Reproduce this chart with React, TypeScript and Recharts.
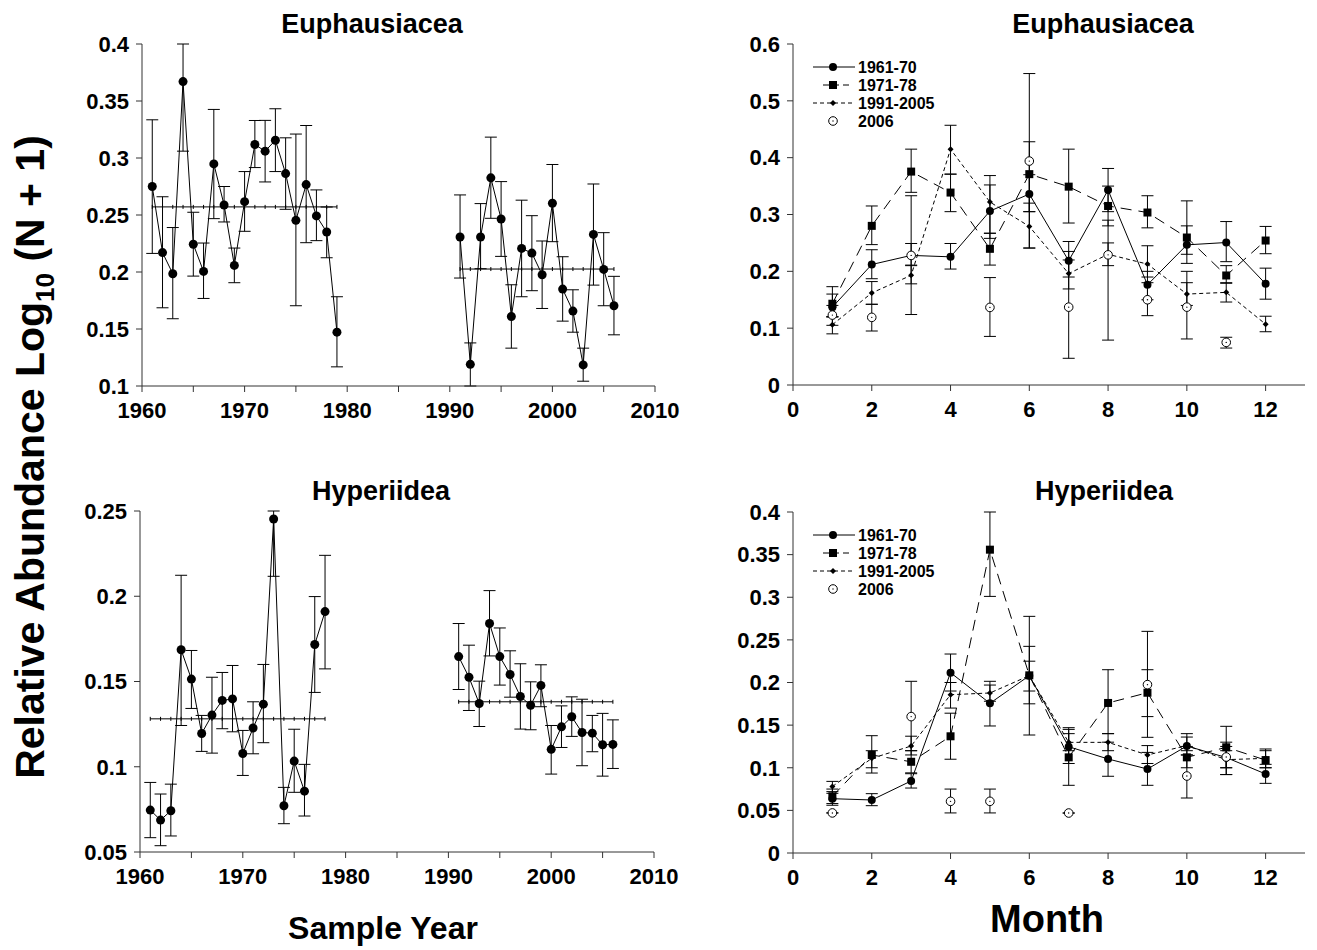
import React from 'react';
import { ComposedChart, Line, XAxis, YAxis, ErrorBar } from 'recharts';

const FONT = '"Liberation Sans", Arial, Helvetica, sans-serif';
const AXIS = '#333';

// ---------- Left panels: by sample year ----------
const euphYearsA = [1961,1962,1963,1964,1965,1966,1967,1968,1969,1970,1971,1972,1973,1974,1975,1976,1977,1978,1979];
const euphMeanA = [0.275,0.217,0.1985,0.367,0.2243,0.2005,0.2948,0.2588,0.2058,0.2617,0.3118,0.306,0.3156,0.2863,0.2453,0.2767,0.2492,0.2351,0.1472];
const euphLowA = [0.2163,0.1686,0.159,0.306,0.1964,0.1768,0.2468,0.2439,0.1906,0.2357,0.2916,0.279,0.2881,0.255,0.1704,0.2257,0.2275,0.2125,0.1168];
const euphHighA = [0.3335,0.266,0.239,0.4,0.2524,0.2254,0.3426,0.275,0.221,0.2881,0.3329,0.333,0.3432,0.3177,0.321,0.3285,0.272,0.257,0.1783];
const euphYearsB = [1991,1992,1993,1994,1995,1996,1997,1998,1999,2000,2001,2002,2003,2004,2005,2006];
const euphMeanB = [0.2307,0.119,0.2307,0.2826,0.2465,0.161,0.2207,0.2166,0.1976,0.2603,0.185,0.1657,0.1185,0.233,0.2023,0.1704];
const euphLowB = [0.1947,0.1,0.2029,0.2471,0.2137,0.1332,0.1783,0.1836,0.168,0.2266,0.1569,0.1472,0.1042,0.1885,0.1704,0.1449];
const euphHighB = [0.2676,0.1378,0.26,0.3183,0.2793,0.1888,0.263,0.2494,0.2272,0.2943,0.2134,0.1844,0.1332,0.2772,0.2345,0.1962];
const euphPeriodMeanA = 0.2571;
const euphPeriodMeanB = 0.2026;

const hypYearsA = [1961,1962,1963,1964,1965,1966,1967,1968,1969,1970,1971,1972,1973,1974,1975,1976,1977,1978];
const hypMeanA = [0.0746,0.0687,0.0742,0.1686,0.1514,0.1195,0.1303,0.1389,0.1398,0.1078,0.1227,0.1367,0.2453,0.0771,0.1033,0.0857,0.1717,0.191];
const hypLowA = [0.0584,0.0537,0.0594,0.1242,0.1342,0.109,0.108,0.1223,0.1205,0.0949,0.1076,0.1141,0.2117,0.0666,0.085,0.0711,0.1436,0.1574];
const hypHighA = [0.0908,0.084,0.0898,0.2123,0.1682,0.1301,0.1525,0.1553,0.1594,0.1213,0.1381,0.16,0.25,0.0879,0.122,0.1014,0.1998,0.224];
const hypYearsB = [1991,1992,1993,1994,1995,1996,1997,1998,1999,2000,2001,2002,2003,2004,2005,2006];
const hypMeanB = [0.1646,0.1525,0.1371,0.184,0.1646,0.1541,0.1412,0.1361,0.1477,0.1102,0.1234,0.1293,0.1201,0.1197,0.1129,0.1131];
const hypLowB = [0.1453,0.133,0.1236,0.165,0.1479,0.1408,0.1221,0.1217,0.1352,0.0957,0.1113,0.1178,0.1006,0.1088,0.0945,0.099];
const hypHighB = [0.184,0.1713,0.1502,0.2033,0.1814,0.168,0.1604,0.1498,0.1598,0.1242,0.1357,0.141,0.1396,0.1301,0.1313,0.1275];
const hypPeriodMeanA = 0.1281;
const hypPeriodMeanB = 0.1381;

const yearTicks = [1960,1965,1970,1975,1980,1985,1990,1995,2000,2005,2010];
const euphYearYTicks = [0.1,0.15,0.2,0.25,0.3,0.35,0.4];
const hypYearYTicks = [0.05,0.1,0.15,0.2,0.25];

// ---------- Right panels: by month ----------
const months = [1,2,3,4,5,6,7,8,9,10,11,12];
const monthTicks = [0,2,4,6,8,10,12];
const euphMonthYTicks = [0,0.1,0.2,0.3,0.4,0.5,0.6];
const hypMonthYTicks = [0,0.05,0.1,0.15,0.2,0.25,0.3,0.35,0.4];

const seriesNames = ['1961-70', '1971-78', '1991-2005', '2006'];

// Euphausiacea monthly
const euph6170 = [0.137,0.212,0.228,0.2255,0.306,0.336,0.2185,0.343,0.1763,0.2466,0.2507,0.178];
const euph6170Low = [0.12,0.187,0.211,0.204,0.267,0.305,0.19,0.305,0.15,0.214,0.217,0.151];
const euph6170High = [0.16,0.238,0.249,0.249,0.3685,0.37,0.2525,0.381,0.2,0.28,0.2876,0.2056];
const euph7178 = [0.143,0.28,0.3755,0.3386,0.2396,0.371,0.349,0.315,0.3035,0.2595,0.1927,0.2542];
const euph7178Low = [0.12,0.247,0.339,0.305,0.211,0.305,0.285,0.28,0.2765,0.23,0.179,0.231];
const euph7178High = [0.173,0.315,0.415,0.371,0.267,0.428,0.415,0.35,0.333,0.324,0.21,0.279];
const euph9105 = [0.106,0.162,0.193,0.415,0.322,0.279,0.196,0.23,0.2127,0.16,0.163,0.107];
const euph9105Low = [0.09,0.142,0.178,0.371,0.258,0.241,0.169,0.21,0.19,0.14,0.146,0.0937];
const euph9105High = [0.12,0.182,0.21,0.457,0.352,0.32,0.22,0.25,0.245,0.18,0.18,0.121];
const euph06Months = [1,2,3,5,6,7,8,9,10,11];
const euph06 = [0.123,0.119,0.228,0.1365,0.394,0.137,0.229,0.15,0.137,0.075];
const euph06Low = [0.105,0.095,0.124,0.0855,0.241,0.047,0.079,0.122,0.081,0.065];
const euph06High = [0.14,0.142,0.333,0.189,0.548,0.235,0.29,0.18,0.2,0.084];

// Hyperiidea monthly
const hyp6170 = [0.0637,0.0622,0.0845,0.2115,0.1756,0.208,0.1247,0.1103,0.0985,0.1255,0.112,0.0927];
const hyp6170Low = [0.056,0.0555,0.0762,0.19,0.149,0.175,0.105,0.09,0.0794,0.115,0.1,0.0817];
const hyp6170High = [0.072,0.0696,0.093,0.2334,0.2014,0.2424,0.145,0.13,0.118,0.136,0.125,0.104];
const hyp7178 = [0.0665,0.115,0.107,0.1369,0.3558,0.2084,0.1122,0.176,0.188,0.1122,0.124,0.109];
const hyp7178Low = [0.058,0.0938,0.094,0.11,0.301,0.1384,0.0794,0.14,0.1357,0.1,0.1,0.1];
const hyp7178High = [0.075,0.1376,0.12,0.164,0.4,0.2776,0.147,0.215,0.215,0.125,0.1486,0.122];
const hyp9105 = [0.078,0.111,0.1255,0.1857,0.1877,0.208,0.1298,0.1298,0.115,0.126,0.1095,0.111];
const hyp9105Low = [0.07,0.1,0.115,0.17,0.178,0.19,0.12,0.12,0.105,0.12,0.092,0.1];
const hyp9105High = [0.084,0.12,0.137,0.2,0.197,0.225,0.14,0.14,0.126,0.14,0.12,0.12];
const hyp06Months = [1,3,4,5,7,9,10,11];
const hyp06 = [0.047,0.16,0.0606,0.0606,0.0469,0.1975,0.0903,0.1126];
const hyp06Low = [0.047,0.12,0.047,0.047,0.0469,0.16,0.0645,0.092];
const hyp06High = [0.047,0.2014,0.075,0.075,0.0469,0.26,0.115,0.13];

type Pt = { x: number; y: number; err: [number, number] };
const build = (xs: number[], ys: number[], lo: number[], hi: number[]): Pt[] =>
  xs.map((x, i) => ({ x, y: ys[i], err: [Math.max(0, ys[i] - lo[i]), Math.max(0, hi[i] - ys[i])] as [number, number] }));
const flat = (xs: number[], v: number) => xs.map((x) => ({ x, y: v }));

// ---------- marker shapes ----------
const filledCircle = (r: number) => (p: any) =>
  p.cx == null ? <g key={p.index} /> : <circle key={p.index} cx={p.cx} cy={p.cy} r={r} fill="#000" stroke="none" />;
const square = (p: any) =>
  p.cx == null ? <g key={p.index} /> : <rect key={p.index} x={p.cx - 4} y={p.cy - 4} width={8} height={8} fill="#000" />;
const diamond = (p: any) =>
  p.cx == null ? <g key={p.index} /> : (
    <polygon key={p.index} points={`${p.cx},${p.cy - 3} ${p.cx + 3},${p.cy} ${p.cx},${p.cy + 3} ${p.cx - 3},${p.cy}`} fill="#000" />
  );
const openCircle = (p: any) =>
  p.cx == null ? <g key={p.index} /> : (
    <g key={p.index}>
      <circle cx={p.cx} cy={p.cy} r={4.3} fill="#fff" stroke="#000" strokeWidth={1} />
      <circle cx={p.cx} cy={p.cy} r={0.7} fill="#000" />
    </g>
  );
const meanTick = (p: any) =>
  p.cx == null ? <g key={p.index} /> : <line key={p.index} x1={p.cx} x2={p.cx} y1={p.cy - 2} y2={p.cy + 2} stroke="#000" strokeWidth={1} />;

const tickStyle = { fontSize: 22, fontWeight: 'bold' as const, fill: '#000', fontFamily: FONT };

type PanelProps = {
  left: number; top: number; w: number; h: number;
  xDomain: [number, number]; xTicks: number[]; xFmt?: (v: number) => string;
  yDomain: [number, number]; yTicks: number[];
  children: React.ReactNode;
};

function Panel({ left, top, w, h, xDomain, xTicks, xFmt, yDomain, yTicks, children }: PanelProps) {
  const ML = 100, MT = 20, MR = 40, MB = 50;
  return (
    <div style={{ position: 'absolute', left: left - ML, top: top - MT, width: w + ML + MR, height: h + MT + MB }}>
      <ComposedChart width={w + ML + MR} height={h + MT + MB} margin={{ top: MT, right: MR, left: 0, bottom: 0 }}>
        <XAxis xAxisId={0} dataKey="x" type="number" domain={xDomain} ticks={xTicks} allowDataOverflow
          tickFormatter={xFmt} height={MB} stroke={AXIS} tickSize={6} tickMargin={10} tick={tickStyle}
          interval={0} />
        <XAxis xAxisId="top" orientation="top" dataKey="x" type="number" domain={xDomain} ticks={xTicks} allowDataOverflow
          height={0} stroke={AXIS} tickSize={6} tick={false} interval={0} />
        <YAxis yAxisId={0} type="number" domain={yDomain} ticks={yTicks} allowDataOverflow width={ML}
          stroke={AXIS} tickSize={6} tickMargin={7} tick={tickStyle} interval={0} />
        <YAxis yAxisId="right" orientation="right" type="number" domain={yDomain} ticks={yTicks} allowDataOverflow width={0}
          stroke={AXIS} tickSize={6} tick={false} interval={0} />
        {children}
      </ComposedChart>
    </div>
  );
}

const yearFmt = (v: number) => (v % 10 === 0 ? String(v) : '');

function yearSeries(xs: number[], ys: number[], lo: number[], hi: number[], id: string) {
  return (
    <Line key={id} data={build(xs, ys, lo, hi)} dataKey="y" type="linear" stroke="#000" strokeWidth={1}
      dot={filledCircle(4.5)} activeDot={false} isAnimationActive={false} legendType="none">
      <ErrorBar dataKey="err" direction="y" width={6} stroke="#000" strokeWidth={1} />
    </Line>
  );
}

function meanSeries(xs: number[], v: number, id: string) {
  return (
    <Line key={id} data={flat(xs, v)} dataKey="y" type="linear" stroke="#000" strokeWidth={1}
      dot={meanTick} activeDot={false} isAnimationActive={false} legendType="none" />
  );
}

function monthSeries(xs: number[], ys: number[], lo: number[], hi: number[], id: string, kind: number) {
  const dash = kind === 1 ? '11 7' : kind === 2 ? '4 3' : undefined;
  const dot = kind === 0 ? filledCircle(4) : kind === 1 ? square : kind === 2 ? diamond : openCircle;
  return (
    <Line key={id} name={seriesNames[kind]} data={build(xs, ys, lo, hi)} dataKey="y" type="linear"
      stroke={kind === 3 ? 'none' : '#000'} strokeWidth={1} strokeDasharray={dash}
      dot={dot} activeDot={false} isAnimationActive={false} legendType="none">
      <ErrorBar dataKey="err" direction="y" width={6} stroke="#000" strokeWidth={1} />
    </Line>
  );
}

function LegendBlock({ x, y }: { x: number; y: number }) {
  const rows = [0, 18, 36, 54];
  const cx = x + 20;
  const txt = { fontSize: 16, fontWeight: 'bold' as const, fontFamily: FONT, fill: '#000' };
  return (
    <g>
      <line x1={x} x2={x + 42} y1={y + rows[0]} y2={y + rows[0]} stroke="#000" strokeWidth={1} />
      <circle cx={cx} cy={y + rows[0]} r={4} fill="#000" />
      <text x={x + 45} y={y + rows[0] + 6} style={txt}>{seriesNames[0]}</text>

      <line x1={x + 10} x2={x + 40} y1={y + rows[1]} y2={y + rows[1]} stroke="#000" strokeWidth={1} strokeDasharray="6 4" />
      <rect x={cx - 4} y={y + rows[1] - 4} width={8} height={8} fill="#000" />
      <text x={x + 45} y={y + rows[1] + 6} style={txt}>{seriesNames[1]}</text>

      <line x1={x} x2={x + 42} y1={y + rows[2]} y2={y + rows[2]} stroke="#000" strokeWidth={1} strokeDasharray="4 3" />
      <polygon points={`${cx},${y + rows[2] - 3} ${cx + 3},${y + rows[2]} ${cx},${y + rows[2] + 3} ${cx - 3},${y + rows[2]}`} fill="#000" />
      <text x={x + 45} y={y + rows[2] + 6} style={txt}>{seriesNames[2]}</text>

      <circle cx={cx} cy={y + rows[3]} r={4.3} fill="#fff" stroke="#000" strokeWidth={1} />
      <circle cx={cx} cy={y + rows[3]} r={0.7} fill="#000" />
      <text x={x + 45} y={y + rows[3] + 6} style={txt}>{seriesNames[3]}</text>
    </g>
  );
}

export default function App() {
  const title = { fontSize: 27, fontWeight: 'bold' as const, fontFamily: FONT, fill: '#000' };
  return (
    <div style={{ position: 'absolute', left: 0, top: 0, width: 1317, height: 950, background: '#fff', overflow: 'hidden' }}>
      <Panel left={142} top={44} w={513} h={342} xDomain={[1960, 2010]} xTicks={yearTicks} xFmt={yearFmt}
        yDomain={[0.1, 0.4]} yTicks={euphYearYTicks}>
        {meanSeries(euphYearsA, euphPeriodMeanA, 'ma')}
        {meanSeries(euphYearsB, euphPeriodMeanB, 'mb')}
        {yearSeries(euphYearsA, euphMeanA, euphLowA, euphHighA, 'a')}
        {yearSeries(euphYearsB, euphMeanB, euphLowB, euphHighB, 'b')}
      </Panel>
      <Panel left={140} top={511} w={514} h={341} xDomain={[1960, 2010]} xTicks={yearTicks} xFmt={yearFmt}
        yDomain={[0.05, 0.25]} yTicks={hypYearYTicks}>
        {meanSeries(hypYearsA, hypPeriodMeanA, 'ma')}
        {meanSeries(hypYearsB, hypPeriodMeanB, 'mb')}
        {yearSeries(hypYearsA, hypMeanA, hypLowA, hypHighA, 'a')}
        {yearSeries(hypYearsB, hypMeanB, hypLowB, hypHighB, 'b')}
      </Panel>
      <Panel left={793} top={44} w={512} h={341} xDomain={[0, 13]} xTicks={monthTicks}
        yDomain={[0, 0.6]} yTicks={euphMonthYTicks}>
        {monthSeries(months, euph6170, euph6170Low, euph6170High, 's0', 0)}
        {monthSeries(months, euph7178, euph7178Low, euph7178High, 's1', 1)}
        {monthSeries(months, euph9105, euph9105Low, euph9105High, 's2', 2)}
        {monthSeries(euph06Months, euph06, euph06Low, euph06High, 's3', 3)}
      </Panel>
      <Panel left={793} top={512} w={512} h={341} xDomain={[0, 13]} xTicks={monthTicks}
        yDomain={[0, 0.4]} yTicks={hypMonthYTicks}>
        {monthSeries(months, hyp6170, hyp6170Low, hyp6170High, 's0', 0)}
        {monthSeries(months, hyp7178, hyp7178Low, hyp7178High, 's1', 1)}
        {monthSeries(months, hyp9105, hyp9105Low, hyp9105High, 's2', 2)}
        {monthSeries(hyp06Months, hyp06, hyp06Low, hyp06High, 's3', 3)}
      </Panel>
      <svg width={1317} height={950} style={{ position: 'absolute', left: 0, top: 0, pointerEvents: 'none' }}>
        <text x={372} y={33} textAnchor="middle" style={title}>Euphausiacea</text>
        <text x={1103} y={33} textAnchor="middle" style={title}>Euphausiacea</text>
        <text x={381} y={500} textAnchor="middle" style={title}>Hyperiidea</text>
        <text x={1104} y={500} textAnchor="middle" style={title}>Hyperiidea</text>
        <text x={383} y={939} textAnchor="middle" style={{ ...title, fontSize: 32 }}>Sample Year</text>
        <text x={1047} y={932} textAnchor="middle" style={{ ...title, fontSize: 38 }}>Month</text>
        <text transform="translate(44,457) rotate(-90)" textAnchor="middle" style={{ ...title, fontSize: 41 }}>
          Relative Abundance Log<tspan fontSize={26} dy={10}>10</tspan><tspan dy={-10}> (N + 1)</tspan>
        </text>
        <LegendBlock x={813} y={67} />
        <LegendBlock x={813} y={535} />
      </svg>
    </div>
  );
}
